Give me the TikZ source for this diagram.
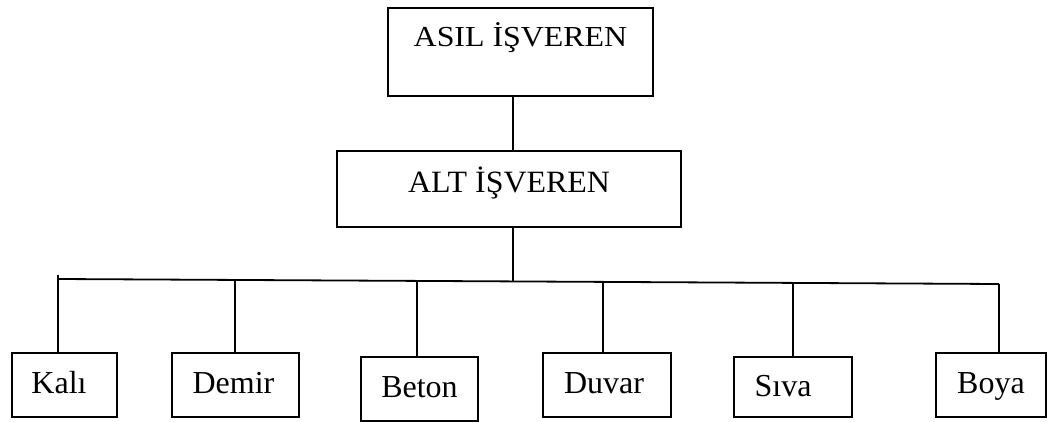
\documentclass[tikz,border=0pt]{standalone}
\usepackage{graphicx}
\usepackage{fontspec}
\setmainfont{Liberation Serif}
\begin{document}
\begin{tikzpicture}[x=1pt,y=-1pt,
  box/.style={draw,line width=1.8pt,inner sep=0pt,font=\fontsize{32}{38}\selectfont},
  conn/.style={line width=1.8pt}]
\useasboundingbox (0,0) rectangle (1048,422);
% boxes (corners from the reference)
\node[box,minimum width=265pt,text height=39pt,text depth=49pt,font=\fontsize{29}{35}\selectfont] (asil) at (520.5,52) {\scalebox{1.1}[1]{ASIL İŞVEREN}};
\node[box,minimum width=344pt,text height=41pt,text depth=35pt,font=\fontsize{31}{37}\selectfont] (alt) at (509,189) {\scalebox{1.03}[1]{ALT İŞVEREN}};
\node[box,minimum width=105pt,text height=40pt,text depth=24pt] (kali) at (64.5,385) {Kalı\hspace*{11pt}};
\node[box,minimum width=127pt,text height=40pt,text depth=24pt] (demir) at (235.5,385) {Demir\hspace*{4pt}};
\node[box,minimum width=117pt,text height=40pt,text depth=24pt] (beton) at (419.5,389) {Beton};
\node[box,minimum width=128pt,text height=40pt,text depth=24pt] (duvar) at (607,385) {Duvar\hspace*{6pt}};
\node[box,minimum width=118pt,text height=39pt,text depth=21pt] (siva) at (793,387) {Sıva\hspace*{20pt}};
\node[box,minimum width=110pt,text height=40pt,text depth=24pt] (boya) at (991,385) {Boya};
% junction coordinates
\coordinate (t) at (513,0);
\coordinate (hub) at (513,282);
\coordinate (ltop) at (58,275);
\coordinate (b1) at (58,279);
\coordinate (b2) at (235,280);
\coordinate (b3) at (417,281);
\coordinate (b4) at (603,282);
\coordinate (b5) at (793,283);
\coordinate (b6) at (999,284);
% connectors
\draw[conn] (asil.south -| t) -- (alt.north -| t);
\draw[conn] (alt.south -| t) -- (hub);
\draw[conn] (b1) -- (b6);
\draw[conn] (ltop) -- (kali.north -| ltop);
\draw[conn] (b2) -- (demir.north -| b2);
\draw[conn] (b3) -- (beton.north -| b3);
\draw[conn] (b4) -- (duvar.north -| b4);
\draw[conn] (b5) -- (siva.north -| b5);
\draw[conn] (b6) -- (boya.north -| b6);
\end{tikzpicture}
\end{document}
